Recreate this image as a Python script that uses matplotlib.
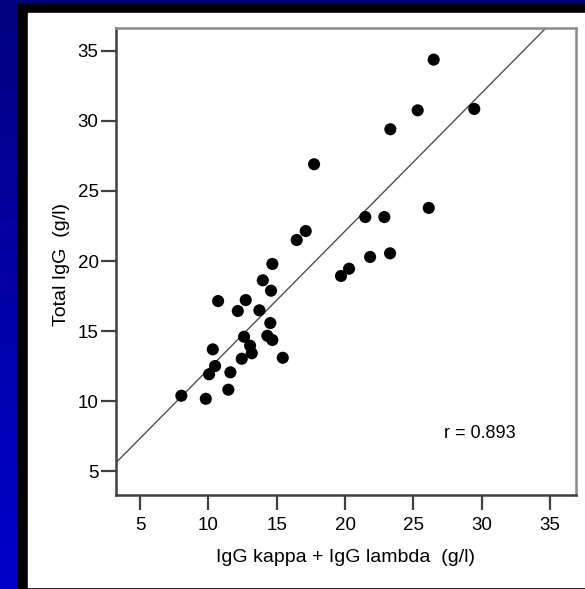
import numpy as np
import matplotlib
matplotlib.use("Agg")
import matplotlib.pyplot as plt
from matplotlib.patches import Rectangle

plt.rcParams['font.family'] = ['Liberation Sans', 'DejaVu Sans']

# Data (IgG kappa + IgG lambda vs Total IgG, g/l)
igg_sum = [17.12, 16.46, 14.68, 13.98, 14.58, 10.71, 12.73, 12.15, 13.73, 14.53,
           12.61, 14.31, 14.68, 13.05, 10.32, 13.17, 12.44, 15.44, 10.49, 10.05,
           11.61, 11.46, 8.02, 9.81, 26.48, 25.31, 29.45, 23.31, 17.73, 26.12,
           21.48, 22.87, 21.83, 23.29, 20.29, 19.70]
total_igg = [22.14, 21.50, 19.79, 18.62, 17.88, 17.14, 17.21, 16.43, 16.48, 15.57,
             14.59, 14.66, 14.36, 13.95, 13.69, 13.41, 13.02, 13.09, 12.50, 11.91,
             12.05, 10.81, 10.38, 10.16, 34.38, 30.76, 30.86, 29.41, 26.91, 23.79,
             23.14, 23.14, 20.29, 20.55, 19.45, 18.93]
fit_slope = 0.987
fit_intercept = 2.40
r_label = "r = 0.893"
xticks = [5, 10, 15, 20, 25, 30, 35]
yticks = [5, 10, 15, 20, 25, 30, 35]
x_title = "IgG kappa + IgG lambda  (g/l)"
y_title = "Total IgG  (g/l)"

W, H = 585, 589
fig = plt.figure(figsize=(W / 100, H / 100), dpi=100)

# Background: blue gradient, black frame, white panel
bg = fig.add_axes([0, 0, 1, 1], zorder=-10)
grad = np.linspace(0, 1, 256).reshape(-1, 1)
top_c = np.array([0, 0, 0x80]) / 255
bot_c = np.array([0, 0, 0xCC]) / 255
img = top_c[None, None, :] * (1 - grad[:, :, None]) + bot_c[None, None, :] * grad[:, :, None]
bg.imshow(img, aspect='auto', extent=[0, 1, 0, 1], origin='upper')
bg.add_patch(Rectangle((17.7 / W, -0.01), 1.0, 1 - 4 / H + 0.01, color='black'))
bg.add_patch(Rectangle((28 / W, 1 - 586.7 / H), 1.0, (586.7 - 12.7) / H, color='white'))
bg.set_xlim(0, 1)
bg.set_ylim(0, 1)
bg.axis('off')

# Main axes
left, right, top, bottom = 116, 575.7, 28, 495
ax = fig.add_axes([left / W, 1 - bottom / H, (right - left) / W, (bottom - top) / H])
ax.set_facecolor('white')
ax.set_xlim(3.24, 36.87)
ax.set_ylim(3.29, 36.64)

xs = np.array(ax.get_xlim())
ax.plot(xs, fit_slope * xs + fit_intercept, color='#505050', lw=1.0, zorder=2)
ax.scatter(igg_sum, total_igg, s=76, color='black', edgecolors='none', zorder=3)

ax.text(27.2, 7.7, r_label, fontsize=13, va='center', ha='left', color='black')

ax.set_xticks(xticks)
ax.set_yticks(yticks)
ax.tick_params(axis='both', direction='out', length=10.5, width=1.6, color='#404040',
               labelsize=13.5, labelcolor='black')
ax.tick_params(axis='x', pad=5)
ax.tick_params(axis='y', pad=2)

for side in ['left', 'bottom']:
    ax.spines[side].set_color('#404040')
    ax.spines[side].set_linewidth(1.8)
for side in ['top', 'right']:
    ax.spines[side].set_color('#8a8a8a')
    ax.spines[side].set_linewidth(1.8)

ax.text(0.5, (bottom - 558) / (bottom - top), x_title, transform=ax.transAxes,
        ha='center', va='center', fontsize=14, color='black')
ax.text((62 - left) / (right - left), (bottom - 265) / (bottom - top), y_title,
        transform=ax.transAxes, ha='center', va='center', rotation=90,
        fontsize=14, color='black')

fig.savefig('out.png', dpi=100)
